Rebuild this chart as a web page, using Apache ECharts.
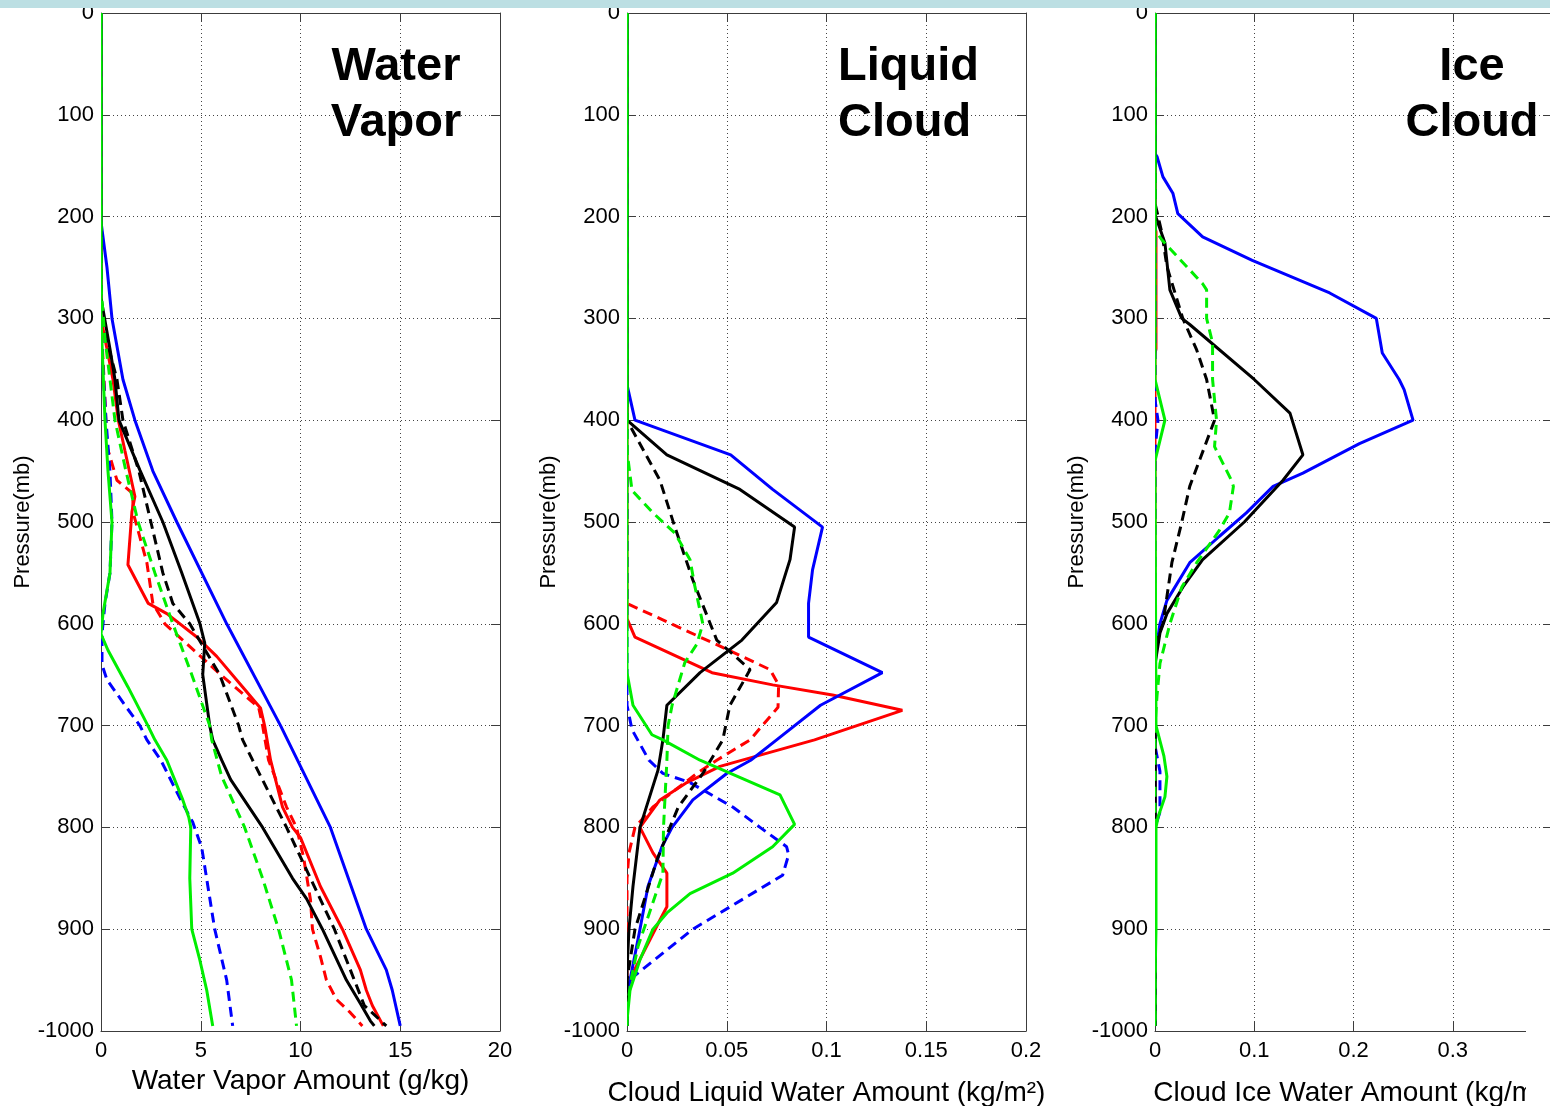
<!DOCTYPE html>
<html>
<head>
<meta charset="utf-8">
<script src="https://cdn.jsdelivr.net/npm/echarts@6/dist/echarts.min.js"></script>
<style>
html,body{margin:0;padding:0;background:#fff;}
#chart{width:1550px;height:1106px;}
</style>
</head>
<body>
<div id="chart"></div>
<script>
// ---------------- DATA (pairs are [pressure (mb), amount]) ----------------
const pressureTicks = [0,100,200,300,400,500,600,700,800,900,1000];
const pressureLabels = ['0','100','200','300','400','500','600','700','800','900','-1000'];

const wvTicks = [0,5,10,15,20];
const lwTicks = [0,0.05,0.1,0.15,0.2];
const iwTicks = [0,0.1,0.2,0.3,0.4];
const wvTickLabels = ['0','5','10','15','20'];
const lwTickLabels = ['0','0.05','0.1','0.15','0.2'];
const iwTickLabels = ['0','0.1','0.2','0.3','0.4'];

const panelTitles = ['Water\nVapor', 'Liquid\nCloud', 'Ice\nCloud'];
const panelXNames = ['Water Vapor Amount (g/kg)', 'Cloud Liquid Water Amount (kg/m\u00B2)', 'Cloud Ice Water Amount (kg/m\u00B2)'];

// Panel 1 : water vapor (g/kg)
const wvBlackSolid = [[0,0],[280,0],[330,0.45],[360,0.7],[400,0.9],[449,1.95],[500,3.1],[550,4.05],[600,4.96],[619,5.2],[650,5.1],[700,5.45],[714,5.6],[734,6.05],[753,6.5],[800,8.1],[850,9.6],[870,10.3],[900,11.1],[950,12.3],[973,13.0],[990,13.5],[995,13.7]];
const wvBlackDash = [[0,0],[290,0],[330,0.4],[360,0.8],[400,1.1],[450,1.9],[500,2.5],[550,3.1],[580,3.6],[600,4.45],[650,5.95],[700,6.9],[714,7.1],[734,7.6],[800,9.3],[850,10.5],[900,11.7],[950,12.7],[975,13.2],[995,14.3]];
const wvGreenSolid = [[0,0],[300,0],[350,0.1],[400,0.2],[450,0.35],[500,0.55],[550,0.45],[590,0.1],[610,0],[626,0.35],[662,1.35],[700,2.35],[714,2.7],[734,3.3],[773,4.1],[790,4.4],[800,4.5],[850,4.45],[900,4.55],[930,4.95],[960,5.3],[995,5.6]];
const wvGreenDash = [[0,0],[270,0],[320,0.2],[360,0.45],[400,0.7],[450,1.25],[500,1.86],[550,2.7],[600,3.6],[650,4.55],[700,5.45],[714,5.55],[750,6.05],[800,7.2],[850,8.1],[900,8.9],[950,9.55],[995,9.8]];
const wvBlueSolid = [[0,0],[205,0],[250,0.3],[300,0.55],[360,1.1],[400,1.7],[450,2.6],[500,3.8],[600,6.3],[700,9.0],[800,11.5],[900,13.3],[940,14.3],[960,14.6],[995,15.0]];
const wvBlueDash = [[0,0],[300,0],[350,0.1],[400,0.25],[450,0.45],[500,0.55],[550,0.45],[580,0.2],[610,0.05],[640,0.05],[655,0.3],[680,1.2],[700,1.95],[714,2.3],[734,3.0],[773,4.0],[795,4.6],[820,5.05],[900,5.7],[950,6.3],[995,6.6]];
const wvRedSolid = [[0,0],[300,0],[330,0.3],[360,0.6],[400,0.87],[430,1.2],[475,1.7],[490,1.55],[542,1.35],[580,2.37],[590,3.3],[613,4.8],[632,5.8],[662,7.1],[683,8.0],[700,8.2],[734,8.5],[780,9.1],[800,9.6],[810,10.0],[858,11.0],[900,12.1],[940,13.0],[960,13.3],[975,13.6],[995,14.15]];
const wvRedDash = [[0,0],[300,0],[380,0.2],[426,0.3],[459,0.8],[472,1.6],[490,1.6],[540,2.3],[580,2.6],[600,3.2],[650,6.0],[682,7.9],[700,8.1],[734,8.4],[780,9.3],[800,9.8],[829,10.15],[871,10.5],[900,10.6],[927,11.0],[950,11.3],[969,11.8],[982,12.5],[995,13.1]];

// Panel 2 : cloud liquid water (kg/m2)
const lwBlackSolid = [[0,0],[400,0],[434,0.02],[468,0.0566],[505,0.084],[537,0.0817],[579,0.075],[616,0.0576],[648,0.0366],[680,0.02],[714,0.018],[744,0.0155],[800,0.0065],[858,0.003],[900,0.001],[940,0],[995,0]];
const lwBlackDash = [[0,0],[400,0],[459,0.0165],[505,0.024],[557,0.033],[616,0.045],[645,0.0617],[680,0.0516],[714,0.048],[747,0.038],[780,0.0257],[800,0.0215],[832,0.015],[900,0.004],[950,0],[995,0]];
const lwGreenSolid = [[0,0],[648,0],[680,0.003],[709,0.0125],[714,0.018],[734,0.0366],[768,0.0767],[797,0.084],[819,0.073],[845,0.053],[865,0.0316],[884,0.02],[900,0.013],[930,0.0065],[960,0.0015],[990,0],[995,0]];
const lwGreenDash = [[0,0],[430,0],[469,0.0025],[491,0.013],[511,0.024],[537,0.0316],[563,0.034],[600,0.038],[620,0.035],[638,0.029],[680,0.0226],[700,0.0206],[734,0.02],[800,0.0183],[845,0.018],[917,0.0055],[950,0.002],[980,0],[995,0]];
const lwBlueSolid = [[0,0],[365,0],[400,0.004],[434,0.052],[468,0.073],[505,0.098],[547,0.093],[580,0.091],[613,0.091],[648,0.128],[680,0.097],[714,0.075],[734,0.062],[747,0.05],[773,0.033],[800,0.0226],[819,0.0175],[858,0.0105],[900,0.0065],[940,0.0025],[965,0],[995,0]];
const lwBlueDash = [[0,0],[680,0],[704,0.0025],[734,0.011],[747,0.018],[756,0.0316],[780,0.053],[800,0.0667],[819,0.08],[827,0.081],[847,0.078],[900,0.033],[947,0.003],[960,0],[995,0]];
const lwRedSolid = [[0,0],[595,0],[613,0.004],[648,0.0426],[660,0.073],[670,0.103],[685,0.138],[714,0.094],[740,0.0466],[756,0.03],[773,0.0165],[800,0.0065],[825,0.013],[845,0.02],[878,0.02],[891,0.0165],[943,0.003],[960,0],[995,0]];
const lwRedDash = [[0,0],[580,0],[622,0.0466],[645,0.0717],[660,0.076],[682,0.0757],[714,0.0617],[734,0.045],[747,0.035],[780,0.013],[800,0.004],[825,0.001],[850,0],[995,0]];

// Panel 3 : cloud ice water (kg/m2)
const iwBlackSolid = [[0,0],[198,0],[226,0.01],[272,0.015],[300,0.027],[306,0.035],[360,0.1],[393,0.136],[434,0.149],[459,0.129],[500,0.09],[537,0.048],[564,0.028],[590,0.012],[609,0.005],[640,0],[995,0]];
const iwBlackDash = [[0,0],[187,0],[216,0.007],[249,0.012],[300,0.028],[331,0.042],[360,0.052],[400,0.06],[426,0.05],[465,0.035],[500,0.027],[540,0.017],[600,0.008],[620,0],[995,0]];
const iwGreenSolid = [[0,0],[360,0],[400,0.01],[440,0],[700,0.001],[730,0.009],[750,0.012],[770,0.01],[790,0.003],[800,0.001],[900,0.001],[950,0],[995,0]];
const iwGreenDash = [[0,0],[213,0],[223,0.007],[266,0.048],[272,0.052],[300,0.052],[324,0.058],[360,0.058],[400,0.062],[426,0.06],[459,0.077],[465,0.079],[491,0.075],[508,0.065],[540,0.042],[564,0.027],[600,0.015],[639,0.005],[671,0.002],[700,0],[995,0]];
const iwBlueSolid = [[0,0],[138,0],[141,0.002],[161,0.008],[177,0.018],[197,0.023],[220,0.048],[243,0.098],[275,0.176],[300,0.223],[334,0.229],[360,0.246],[370,0.251],[400,0.26],[423,0.206],[452,0.149],[465,0.119],[491,0.092],[514,0.065],[540,0.035],[577,0.012],[600,0.005],[620,0.002],[640,0],[995,0]];
const iwBlueDash = [[0,0],[380,0],[400,0.003],[430,0],[720,0],[745,0.005],[785,0.005],[800,0],[995,0]];
const iwRedSolid = [[0,0],[210,0],[215,0.001],[330,0.001],[335,0],[995,0]];
const iwRedDash = [[0,0],[995,0]];

// ---------------- STYLE / LAYOUT ----------------
const FONT = "'Liberation Sans', Arial, sans-serif";
const AX = '#3c3c3c';
const COLORS = {black:'#000000', green:'#00ee00', blue:'#0000ff', red:'#ff0000'};
const DASH = [10, 6];

const panels = [
  {left:101, width:399, ticks:wvTicks, labels:wvTickLabels, gap:36,
   series:[['red',1,wvRedDash],['red',0,wvRedSolid],['blue',1,wvBlueDash],['blue',0,wvBlueSolid],['black',1,wvBlackDash],['black',0,wvBlackSolid],['green',1,wvGreenDash],['green',0,wvGreenSolid]]},
  {left:627, width:399, ticks:lwTicks, labels:lwTickLabels, gap:48,
   series:[['red',1,lwRedDash],['red',0,lwRedSolid],['blue',1,lwBlueDash],['blue',0,lwBlueSolid],['black',1,lwBlackDash],['black',0,lwBlackSolid],['green',1,lwGreenDash],['green',0,lwGreenSolid]]},
  {left:1155, width:397, ticks:iwTicks, labels:iwTickLabels, gap:48,
   series:[['red',1,iwRedDash],['red',0,iwRedSolid],['blue',1,iwBlueDash],['blue',0,iwBlueSolid],['black',1,iwBlackDash],['black',0,iwBlackSolid],['green',1,iwGreenDash],['green',0,iwGreenSolid]]}
];
const TOP = 13, HEIGHT = 1018;

const grid = [], xAxis = [], yAxis = [], series = [];
const splitStyle = {show:true, lineStyle:{color:'#444', width:1, type:[1,3]}};

panels.forEach((p, i) => {
  grid.push({left:p.left, top:TOP, width:p.width, height:HEIGHT, containLabel:false, outerBoundsMode:'none'});
  const xmin = p.ticks[0], xmax = p.ticks[p.ticks.length-1], xint = p.ticks[1]-p.ticks[0];
  xAxis.push({
    type:'value', gridIndex:i, position:'bottom', min:xmin, max:xmax, interval:xint,
    axisLine:{show:true, onZero:false, lineStyle:{color:AX, width:1}},
    axisTick:{show:true, inside:true, length:9, lineStyle:{color:AX}},
    axisLabel:{show:true, fontSize:22, color:'#000', fontFamily:FONT, margin:9, hideOverlap:false,
      formatter:(v) => { const k = p.ticks.findIndex(t => Math.abs(t - v) < 1e-9); return k >= 0 ? p.labels[k] : ''; }},
    splitLine:splitStyle,
    name:panelXNames[i], nameLocation:'middle', nameGap:p.gap,
    nameTextStyle:{fontSize:28, color:'#000', fontFamily:FONT}
  });
  xAxis.push({
    type:'value', gridIndex:i, position:'top', min:xmin, max:xmax, interval:xint,
    axisLine:{show:true, onZero:false, lineStyle:{color:AX, width:1}},
    axisTick:{show:true, inside:true, length:9, lineStyle:{color:AX}},
    axisLabel:{show:false}, splitLine:{show:false}
  });
  yAxis.push({
    type:'value', gridIndex:i, position:'left', inverse:true, min:0, max:1000, interval:100,
    axisLine:{show:true, onZero:false, lineStyle:{color:AX, width:1}},
    axisTick:{show:true, inside:true, length:9, lineStyle:{color:AX}},
    axisLabel:{show:true, fontSize:22, color:'#000', fontFamily:FONT, margin:7,
      formatter:(v) => { const k = pressureTicks.indexOf(v); return k >= 0 ? pressureLabels[k] : ''; }},
    splitLine:splitStyle,
    name:'Pressure(mb)', nameLocation:'middle', nameGap:66, nameRotate:90,
    nameTextStyle:{fontSize:22, color:'#000', fontFamily:FONT}
  });
  yAxis.push({
    type:'value', gridIndex:i, position:'right', inverse:true, min:0, max:1000, interval:100,
    axisLine:{show:true, onZero:false, lineStyle:{color:AX, width:1}},
    axisTick:{show:true, inside:true, length:9, lineStyle:{color:AX}},
    axisLabel:{show:false}, splitLine:{show:false}
  });
  p.series.forEach(([c, dashed, d]) => {
    series.push({
      type:'line', xAxisIndex:2*i, yAxisIndex:2*i,
      data:d.map(([pr, v]) => [v, pr]),
      showSymbol:false, symbol:'none', smooth:false, silent:true,
      lineStyle:{color:COLORS[c], width:3, type: dashed ? DASH : 'solid'},
      z: 3
    });
  });
});

const titleFont = {fontSize:47, fontWeight:'bold', fontFamily:FONT, fill:'#000', lineHeight:56, verticalAlign:'top'};
const graphic = [
  {type:'text', x:396, y:39, z:50, style:Object.assign({text:panelTitles[0], align:'center'}, titleFont)},
  {type:'text', x:838, y:39, z:50, style:Object.assign({text:panelTitles[1], align:'left'}, titleFont)},
  {type:'text', x:1472, y:39, z:50, style:Object.assign({text:panelTitles[2], align:'center'}, titleFont)},
  // mask the outer half of the lines lying on the left axis (they look thin in the source)
  {type:'rect', shape:{x:99, y:13, width:2, height:1018}, style:{fill:'#ffffff'}, z:60},
  {type:'rect', shape:{x:625, y:13, width:2, height:1018}, style:{fill:'#ffffff'}, z:60},
  {type:'rect', shape:{x:1153, y:13, width:2, height:1018}, style:{fill:'#ffffff'}, z:60},
  {type:'rect', shape:{x:0, y:0, width:1550, height:8}, style:{fill:'#bcdfe3'}, z:100},
  {type:'rect', shape:{x:1526, y:1024, width:24, height:82}, style:{fill:'#ffffff'}, z:100}
];

const chart = echarts.init(document.getElementById('chart'), null, {renderer:'canvas'});
chart.setOption({
  animation:false,
  backgroundColor:'#ffffff',
  textStyle:{fontFamily:FONT},
  grid, xAxis, yAxis, series, graphic
});
</script>
</body>
</html>
